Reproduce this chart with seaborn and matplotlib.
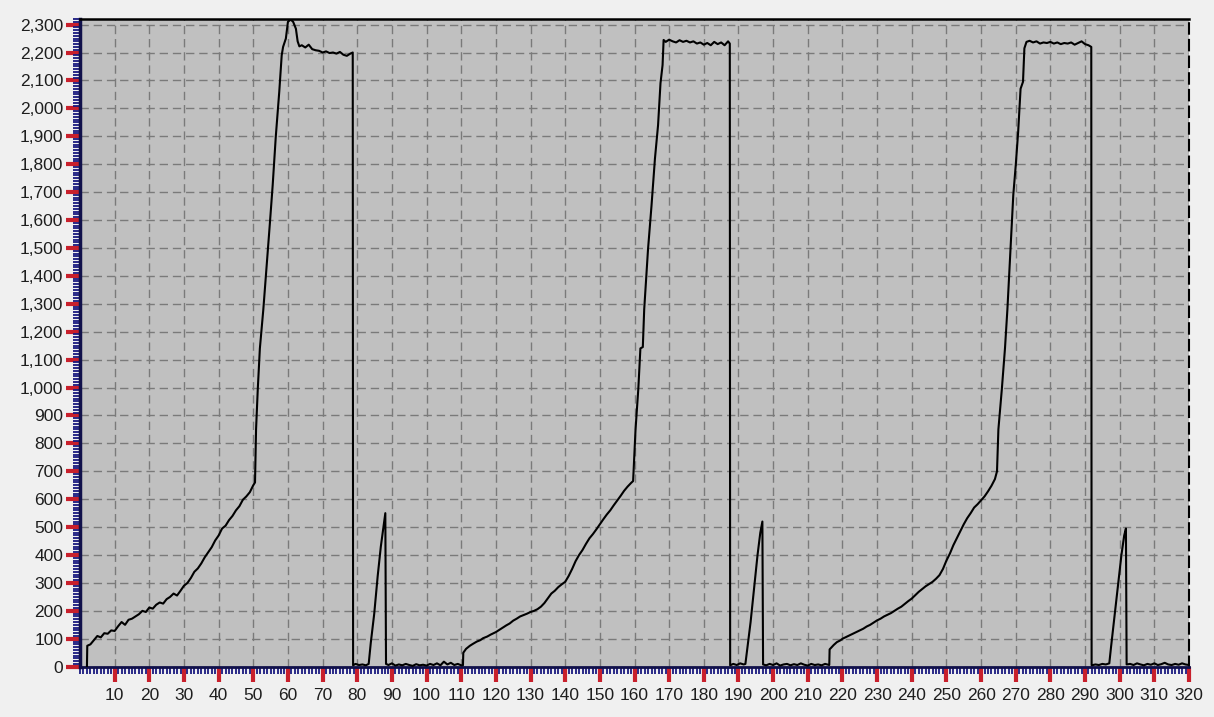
# Library Imports: numpy, matplotlib, seaborn
import numpy as np;
import matplotlib.pyplot as plt;
import seaborn as sns;
from matplotlib.ticker import MultipleLocator, FuncFormatter;
# ////////////////////////////////////////////////////////////////////////////////////////////////

# ////////////////////////////////////////////////////////////////////////////////////////////////
# Data: three charge cycles, each followed by a small spike
cycle1_t = [2.0, 2.1, 3, 4, 5, 6, 7, 8, 9, 10, 11, 12, 13, 14, 15, 16, 17, 18, 19, 20,
            21, 22, 23, 24, 25, 26, 27, 28, 29, 30, 31, 32, 33, 34, 35, 36, 37, 38, 39, 40,
            41, 42, 43, 44, 45, 46, 47, 48, 49, 50, 50.5, 50.8, 51.3, 51.9, 52.9, 53.8, 54.8,
            55.6, 56.5, 57.5, 58.2, 58.6, 59.4, 60.0, 60.8, 61.5, 62.3, 62.8, 63.3, 64, 65, 66,
            67, 68, 69, 70, 71, 72, 73, 74, 75, 76, 77, 78, 78.7];
cycle1_v = [0, 75, 80, 95, 110, 105, 120, 118, 130, 128, 145, 160, 150, 168, 172, 180, 188, 200, 196, 212,
            208, 222, 230, 226, 242, 250, 262, 255, 272, 290, 300, 318, 340, 352, 370, 392, 410, 428, 452, 470,
            495, 505, 525, 540, 560, 575, 598, 610, 625, 650, 660, 850, 995, 1140, 1280, 1425, 1590,
            1725, 1900, 2060, 2190, 2220, 2250, 2310, 2318, 2310, 2285, 2240, 2222, 2226, 2218, 2228,
            2212, 2208, 2206, 2200, 2204, 2198, 2200, 2196, 2202, 2192, 2188, 2196, 2200];

spike1_t = [78.8, 79.5, 80.5, 81.5, 82.5, 83.3, 83.9, 84.9, 85.9, 86.8, 87.6, 88.1, 88.3,
            89, 90, 91, 92, 93, 94, 95, 96, 97, 98, 99, 100, 101, 102, 103, 104, 105, 106, 107,
            108, 109, 110, 110.5];
spike1_v = [5, 10, 6, 8, 5, 10, 85, 190, 325, 430, 505, 550, 10,
            6, 12, 4, 8, 5, 10, 6, 3, 9, 5, 7, 4, 10, 6, 12, 5, 18, 8, 14,
            6, 10, 5, 5];

cycle2_t = [110.6, 111.4, 112.5, 113.4, 114.5, 115.5, 116.3, 117.5, 118.5, 120, 121, 122, 123, 124,
            125, 126, 127, 128, 129, 130, 131, 132, 133, 134, 135, 136, 137, 138, 139, 140, 141, 142,
            143, 144, 145, 146, 147, 148, 149, 150, 151, 152, 153, 154, 155, 156, 157, 158, 159, 159.6,
            160.3, 161.1, 161.7, 162.4, 162.8, 163.9, 164.9, 165.9, 166.8, 167.5, 168.1, 168.4,
            169, 170, 171, 172, 173, 174, 175, 176, 177, 178, 179, 180, 181, 182, 183, 184, 185, 186,
            187, 187.5];
cycle2_v = [50, 64, 75, 82, 90, 95, 102, 108, 115, 124, 132, 140, 148, 155,
            165, 172, 180, 185, 190, 196, 200, 206, 215, 228, 245, 262, 272, 285, 295, 304, 325, 350,
            378, 400, 418, 440, 460, 475, 492, 510, 528, 545, 560, 578, 595, 612, 630, 645, 658, 665,
            850, 995, 1140, 1145, 1280, 1495, 1650, 1820, 1940, 2090, 2155, 2245,
            2238, 2246, 2240, 2236, 2244, 2238, 2242, 2236, 2240, 2232, 2236, 2228, 2234, 2226, 2238, 2230, 2236, 2226,
            2240, 2232];

spike2_t = [187.6, 188.5, 189.5, 190.5, 191.5, 192, 192.5, 193.5, 194.5, 195.5, 196.3, 196.9, 197.1,
            198, 199, 200, 201, 202, 203, 204, 205, 206, 207, 208, 209, 210, 211, 212, 213, 214, 215, 216.2];
spike2_v = [5, 10, 6, 12, 8, 10, 60, 160, 280, 400, 480, 520, 8,
            5, 10, 6, 12, 4, 8, 10, 5, 9, 6, 12, 7, 4, 10, 6, 8, 5, 10, 6];

cycle3_t = [216.3, 217.5, 218.4, 219.5, 220, 221, 222, 223, 224, 225, 226, 227, 228, 229, 230, 231,
            232, 233, 234, 235, 236, 237, 238, 239, 240, 241, 242, 243, 244, 245, 246, 247, 248, 249,
            250, 251, 252, 253, 254, 255, 256, 257, 258, 259, 260, 261, 262, 263, 264, 264.6,
            265, 266, 266.9, 267.6, 268.5, 269.3, 270, 270.7, 271.4, 272.1, 272.5, 273.1,
            274, 275, 276, 277, 278, 279, 280, 281, 282, 283, 284, 285, 286, 287, 288, 289, 290, 291, 291.8];
cycle3_v = [62, 78, 88, 95, 100, 106, 112, 118, 124, 130, 136, 144, 150, 158, 166, 172,
            180, 186, 192, 200, 208, 215, 225, 235, 244, 256, 268, 278, 288, 296, 304, 315, 328, 350,
            380, 405, 435, 460, 485, 510, 532, 550, 570, 582, 596, 610, 628, 648, 672, 700,
            850, 995, 1140, 1280, 1495, 1690, 1795, 1915, 2070, 2095, 2215, 2238,
            2242, 2236, 2240, 2232, 2236, 2234, 2238, 2232, 2236, 2230, 2234, 2232, 2236, 2228, 2234, 2240, 2230, 2226, 2220];

spike3_t = [291.9, 293, 294, 295, 296, 297, 297.5, 298.5, 299.5, 300.5, 301.3, 301.8, 302.0,
            303, 304, 305, 306, 307, 308, 309, 310, 311, 312, 313, 314, 315, 316, 317, 318, 319, 320];
spike3_v = [5, 8, 6, 10, 8, 12, 70, 180, 290, 400, 470, 495, 8,
            10, 6, 12, 8, 5, 10, 7, 12, 6, 9, 14, 8, 6, 10, 7, 12, 8, 6];

x_major = list(range(10, 330, 10));
y_major = list(range(0, 2400, 100));
# ////////////////////////////////////////////////////////////////////////////////////////////////

# ////////////////////////////////////////////////////////////////////////////////////////////////
# Colours
color_panel = '#c0c0c0';
color_page = '#f0f0f0';
color_grid = '#7a7a7a';
color_major = '#c8202c';
color_minor = '#1a1a80';
color_text = '#1e1e1e';
# ////////////////////////////////////////////////////////////////////////////////////////////////

t = np.concatenate([cycle1_t, spike1_t, cycle2_t, spike2_t, cycle3_t, spike3_t]);
v = np.concatenate([cycle1_v, spike1_v, cycle2_v, spike2_v, cycle3_v, spike3_v]);

sns.set_style('white');
plt.rcParams['font.family'] = ['Liberation Sans', 'DejaVu Sans'];

fig = plt.figure(figsize=(12.14, 7.17), dpi=100, facecolor=color_page);
ax = fig.add_axes([80 / 1214, 50.3 / 717, 1109 / 1214, 647.7 / 717]);
ax.set_facecolor(color_panel);

sns.lineplot(x=t, y=v, ax=ax, color='black', linewidth=1.5, estimator=None, sort=False, zorder=3);

ax.set_xlim(0, 320);
ax.set_ylim(0, 2320);
ax.set_xticks(x_major);
ax.set_yticks(y_major);
ax.xaxis.set_minor_locator(MultipleLocator(1));
ax.yaxis.set_minor_locator(MultipleLocator(10));
ax.yaxis.set_major_formatter(FuncFormatter(lambda val, pos: f'{val:,.0f}'));

ax.grid(True, which='major', color=color_grid, linestyle=(0, (6, 3.5)), linewidth=1.0, zorder=1);
ax.set_axisbelow(True);

# seaborn's white style switches the ticks off, bring them back
ax.tick_params(axis='both', which='both', bottom=True, left=True, top=False, right=False);
ax.tick_params(axis='both', which='major', direction='out', color=color_major, width=3,
               labelsize=12.5, labelcolor=color_text);
ax.tick_params(axis='x', which='major', length=11, pad=4);
ax.tick_params(axis='y', which='major', length=10, pad=2);
ax.tick_params(axis='both', which='minor', direction='out', color=color_minor, width=1.3, length=5);

ax.spines['left'].set_color('#10104a');
ax.spines['left'].set_linewidth(2.5);
ax.spines['bottom'].set_color('#10104a');
ax.spines['bottom'].set_linewidth(2.0);
ax.spines['top'].set_color('black');
ax.spines['top'].set_linewidth(1.8);
ax.spines['right'].set_color('black');
ax.spines['right'].set_linewidth(1.5);
ax.spines['right'].set_linestyle((0, (5, 3)));

ax.set_xlabel('');
ax.set_ylabel('');

plt.savefig('out.png', dpi=100, facecolor=color_page);
